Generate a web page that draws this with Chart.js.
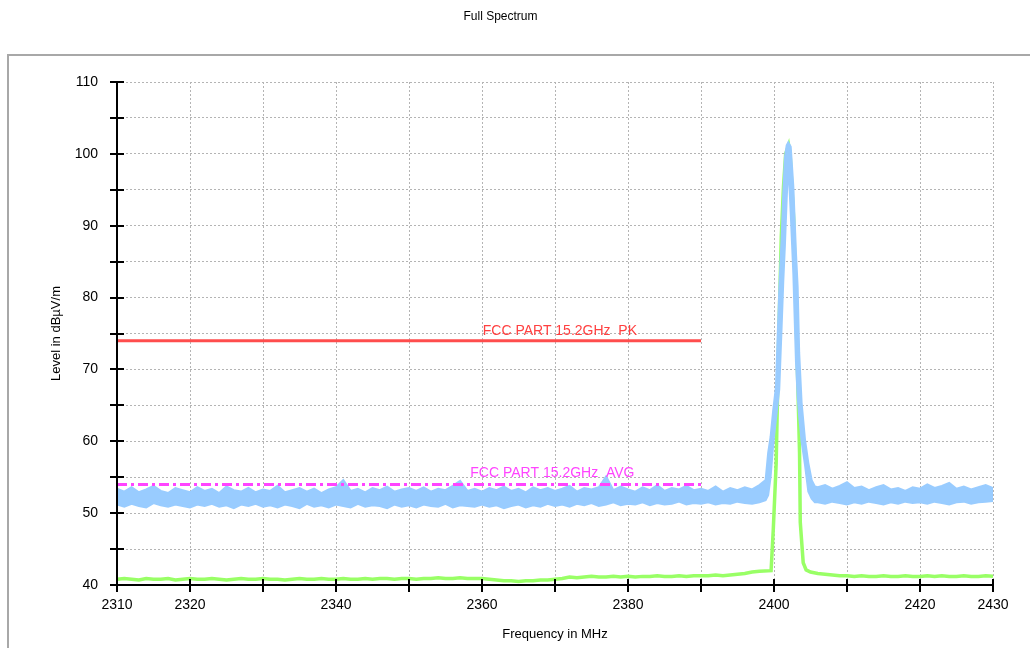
<!DOCTYPE html>
<html>
<head>
<meta charset="utf-8">
<script src="https://cdn.jsdelivr.net/npm/chart.js@4"></script>
<style>
  body { margin: 0; background: #fff; }
  #wrap { width: 1030px; height: 648px; }
</style>
</head>
<body>
<div id="wrap"><canvas id="spectrum" width="1030" height="648"></canvas></div>
<script>
// peak trace (upper / lower edge of the noisy band), MHz -> dBuV/m
const blueFreq = [
  2310,2311,2312,2313,2314,2315,2316,2317,2318,2319,
  2320,2321,2322,2323,2324,2325,2326,2327,2328,2329,
  2330,2331,2332,2333,2334,2335,2336,2337,2338,2339,
  2340,2341,2342,2343,2344,2345,2346,2347,2348,2349,
  2350,2351,2352,2353,2354,2355,2356,2357,2358,2359,
  2360,2361,2362,2363,2364,2365,2366,2367,2368,2369,
  2370,2371,2372,2373,2374,2375,2376,2377,2378,2379,
  2380,2381,2382,2383,2384,2385,2386,2387,2388,2389,
  2390,2391,2392,2393,2394,2395,2396,2397,2398,
  2398.85,2399.2,2399.53,2399.9,2400.27,2400.45,2400.72,2401.05,2401.27,2401.5,2401.74,
  2401.96,2402.29,2402.65,2403.01,2403.24,2403.45,2403.78,2404.25,2404.7,2405.16,2405.6,
  2406,2407,2408,2409,2410,2411,2412,2413,2414,2415,2416,2417,2418,2419,
  2420,2421,2422,2423,2424,2425,2426,2427,2428,2429,2430
];
const blueHi = [
  53.4,53.0,53.6,52.9,53.3,53.8,53.1,52.8,53.5,53.2,
  52.9,53.6,53.1,53.4,52.8,53.7,53.2,53.0,53.5,52.9,
  53.3,53.1,53.8,52.9,53.2,53.5,53.0,53.4,52.8,53.3,
  53.6,54.6,53.1,53.4,52.9,53.5,53.2,53.7,53.0,53.3,
  53.5,53.1,53.6,53.0,53.4,53.2,53.8,54.5,53.1,53.4,
  53.0,53.5,53.2,53.7,53.1,53.4,52.9,53.6,53.2,53.5,
  53.1,53.4,53.8,53.0,53.5,53.3,53.6,55.1,53.2,53.7,
  53.3,53.0,53.6,53.2,53.9,53.1,53.5,53.3,53.8,53.2,
  53.4,53.1,53.7,53.0,53.5,53.2,53.6,53.3,53.9,
  54.6,58.4,60.6,64.4,67.6,73.2,81.1,88.5,94.6,99.6,101.2,
  101.6,101.0,95.4,86.2,81.5,72.3,65.4,60.2,57.0,54.6,53.7,
  53.6,53.9,53.4,53.8,54.3,53.5,53.7,53.2,53.6,53.9,53.3,53.5,53.1,53.6,
  53.4,54.0,53.5,53.8,54.2,53.4,53.7,53.3,53.6,53.9,53.5
];
const blueLo = [
  51.2,50.9,51.3,51.0,50.8,51.4,51.1,50.9,51.2,51.0,
  50.8,51.2,51.0,51.3,50.9,51.1,50.7,51.2,51.0,51.3,
  50.9,51.1,50.8,51.2,51.0,50.7,51.3,50.9,51.1,50.8,
  51.2,51.0,50.8,51.3,50.9,51.1,51.0,50.7,51.2,50.9,
  51.1,50.8,51.2,51.0,50.9,51.3,50.8,51.1,51.0,50.9,
  51.2,50.9,51.1,50.7,51.0,51.2,50.8,51.1,50.9,51.3,
  51.0,51.2,50.9,51.3,51.1,51.4,51.0,51.2,51.5,51.1,
  51.3,51.2,51.5,51.1,51.4,51.2,51.3,51.6,51.2,51.4,
  51.3,51.5,51.2,51.4,51.3,51.6,51.4,51.3,51.5,
  51.8,52.5,55.0,59.7,63.1,64.8,67.2,76.1,82.2,87.4,93.8,
  98.7,91.8,83.3,71.0,66.2,63.5,60.0,56.7,53.0,52.0,51.5,
  51.5,51.3,51.6,51.4,51.2,51.5,51.3,51.6,51.4,51.2,51.5,51.3,51.6,51.4,
  51.5,51.3,51.6,51.4,51.2,51.5,51.6,51.3,51.5,51.6,51.7
];

// average trace
const greenFreq = [
  2310,2311,2312,2313,2314,2315,2316,2317,2318,2319,
  2320,2321,2322,2323,2324,2325,2326,2327,2328,2329,
  2330,2331,2332,2333,2334,2335,2336,2337,2338,2339,
  2340,2341,2342,2343,2344,2345,2346,2347,2348,2349,
  2350,2351,2352,2353,2354,2355,2356,2357,2358,2359,
  2360,2361,2362,2363,2364,2365,2366,2367,2368,2369,
  2370,2371,2372,2373,2374,2375,2376,2377,2378,2379,
  2380,2381,2382,2383,2384,2385,2386,2387,2388,2389,
  2390,2391,2392,2393,2394,2395,2396,2397,2398,
  2399.6,2399.9,2400.3,2400.6,2401.0,2401.3,2401.6,2402.0,
  2402.2,2402.7,2403.1,2403.5,2403.6,2404.0,2404.4,2405.0,
  2406,2407,2408,2409,2410,2411,2412,2413,2414,2415,2416,2417,2418,2419,
  2420,2421,2422,2423,2424,2425,2426,2427,2428,2429,2430
];
const greenLevel = [
  40.8,40.9,40.8,40.7,40.9,40.8,40.8,40.9,40.7,40.8,
  40.9,40.8,40.8,40.9,40.8,40.7,40.8,40.9,40.8,40.8,
  40.9,40.8,40.8,40.7,40.8,40.9,40.8,40.8,40.9,40.8,
  40.8,40.9,40.8,40.8,40.9,40.8,40.9,40.9,40.8,40.9,
  40.9,40.8,40.9,40.9,41.0,40.9,40.9,41.0,40.9,40.9,
  40.9,40.8,40.7,40.6,40.6,40.5,40.6,40.6,40.7,40.7,
  40.8,40.9,41.1,41.0,41.1,41.2,41.1,41.1,41.2,41.1,
  41.2,41.1,41.2,41.2,41.3,41.2,41.2,41.3,41.2,41.3,
  41.3,41.3,41.4,41.3,41.4,41.5,41.6,41.8,41.9,
  42.0,47.7,57.0,72.3,88.5,95.4,100.0,101.2,
  100.0,90.8,74.6,58.4,48.7,43.1,42.1,41.8,
  41.6,41.5,41.4,41.3,41.3,41.2,41.3,41.2,41.2,41.3,41.2,41.2,41.3,41.2,
  41.2,41.3,41.2,41.3,41.2,41.2,41.3,41.2,41.2,41.3,41.2
];

// limit lines
const limitFreq = [2310, 2390];
const pkLimit = [74, 74];
const avgLimit = [54, 54];
const limitNames = ['FCC PART 15.2GHz  PK', 'FCC PART 15.2GHz  AVG'];

const xTickLabels = [2310, 2320, 2340, 2360, 2380, 2400, 2420, 2430];
const yTickLabels = [40, 50, 60, 70, 80, 90, 100, 110];

const pts = (xs, ys) => xs.map((x, i) => ({x: x, y: ys[i]}));
const FONT = '"Liberation Sans", Arial, sans-serif';

const frame = {
  id: 'frame',
  beforeDraw(chart) {
    const ctx = chart.ctx;
    ctx.save();
    ctx.fillStyle = '#fff';
    ctx.fillRect(0, 0, chart.width, chart.height);
    ctx.strokeStyle = '#a8a8a8';
    ctx.lineWidth = 2;
    ctx.beginPath();
    ctx.moveTo(8, 648); ctx.lineTo(8, 55); ctx.lineTo(1030, 55);
    ctx.stroke();
    ctx.restore();
  },
  afterDatasetsDraw(chart) {
    const {ctx, scales: {x, y}} = chart;
    ctx.save();
    ctx.font = '14px ' + FONT;
    ctx.textBaseline = 'alphabetic';
    ctx.fillStyle = '#ff4040';
    ctx.fillText(limitNames[0], x.getPixelForValue(2360.1), y.getPixelForValue(pkLimit[0]) - 6);
    ctx.fillStyle = '#ff44ff';
    ctx.fillText(limitNames[1], x.getPixelForValue(2358.4), y.getPixelForValue(avgLimit[0]) - 7);
    ctx.restore();
  },
  afterDraw(chart) {
    const {ctx, scales: {x, y}} = chart;
    const left = Math.round(x.left), bottom = Math.round(y.bottom);
    ctx.save();
    ctx.strokeStyle = '#000';
    ctx.lineWidth = 2;
    ctx.beginPath();
    ctx.moveTo(left, Math.round(y.top)); ctx.lineTo(left, bottom);
    ctx.lineTo(Math.round(x.right), bottom);
    y.ticks.forEach(t => {
      const py = Math.round(y.getPixelForValue(t.value));
      ctx.moveTo(left - 7, py); ctx.lineTo(left + 7, py);
    });
    x.ticks.forEach(t => {
      const px = Math.round(x.getPixelForValue(t.value));
      ctx.moveTo(px, bottom - 6); ctx.lineTo(px, bottom + 7);
    });
    ctx.stroke();
    ctx.restore();
  }
};

new Chart(document.getElementById('spectrum'), {
  type: 'line',
  data: {
    datasets: [
      { data: pts(limitFreq, pkLimit), borderColor: '#ff4d4d', borderWidth: 3 },
      { data: pts(limitFreq, avgLimit), borderColor: '#ff44ff', borderWidth: 3, borderDash: [10, 4, 3, 4] },
      { data: pts(blueFreq, blueHi), borderColor: '#99ccff', borderWidth: 2, fill: '+1', backgroundColor: '#99ccff' },
      { data: pts(blueFreq, blueLo), borderColor: '#99ccff', borderWidth: 2 },
      { data: pts(greenFreq, greenLevel), borderColor: '#99ff66', borderWidth: 3.5 }
    ]
  },
  options: {
    responsive: false,
    animation: false,
    events: [],
    elements: { point: { radius: 0 }, line: { tension: 0 } },
    layout: { padding: { left: 8, right: 37, top: 0, bottom: 0 } },
    plugins: {
      legend: { display: false },
      tooltip: { enabled: false },
      title: {
        display: true,
        text: 'Full Spectrum',
        color: '#000',
        font: { family: FONT, size: 12, weight: 'normal' },
        padding: { top: 9, bottom: 58.6 }
      }
    },
    scales: {
      x: {
        type: 'linear',
        min: 2310,
        max: 2430,
        afterFit(scale) { scale.height = 63; },
        ticks: {
          stepSize: 10,
          autoSkip: false,
          maxRotation: 0,
          padding: 12,
          color: '#000',
          font: { family: FONT, size: 14 },
          callback: v => xTickLabels.includes(v) ? String(v) : ''
        },
        grid: { color: '#b4b4b4', lineWidth: 1, drawTicks: false },
        border: { color: '#000', width: 2, dash: [2, 2] },
        title: {
          display: true,
          text: 'Frequency in MHz',
          color: '#000',
          font: { family: FONT, size: 13 },
          padding: { top: 0, bottom: 6 }
        }
      },
      y: {
        min: 40,
        max: 110,
        afterFit(scale) { scale.width = 109; },
        ticks: {
          stepSize: 5,
          padding: 19,
          color: '#000',
          font: { family: FONT, size: 14 },
          callback: v => yTickLabels.includes(v) ? String(v) : ''
        },
        grid: { color: '#b4b4b4', lineWidth: 1, drawTicks: false },
        border: { color: '#000', width: 2, dash: [2, 2] },
        title: {
          display: true,
          text: 'Level in dBµV/m',
          color: '#000',
          font: { family: FONT, size: 13 },
          padding: { top: 41, bottom: 0 }
        }
      }
    }
  },
  plugins: [frame]
});
</script>
</body>
</html>
